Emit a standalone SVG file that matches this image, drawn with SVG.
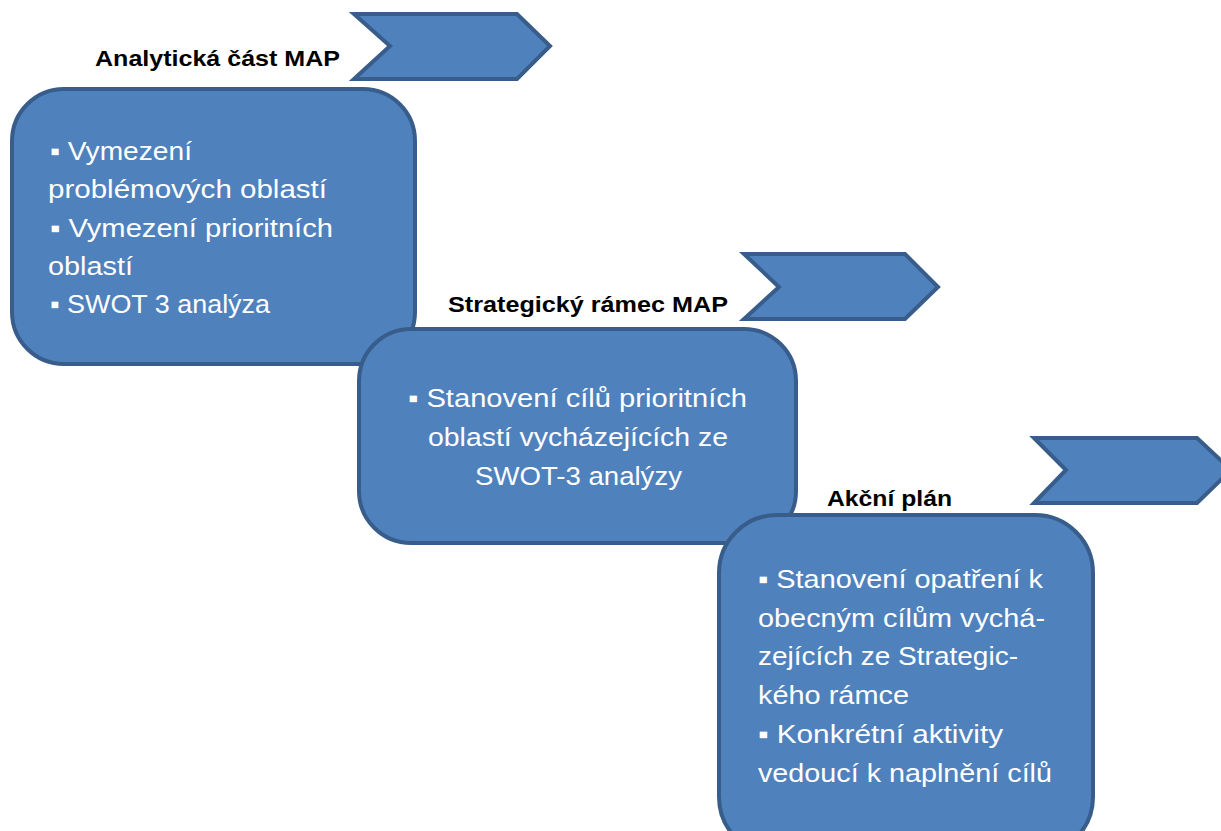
<svg xmlns="http://www.w3.org/2000/svg" width="1221" height="831" viewBox="0 0 1221 831">
<style>
.shape{fill:#4f81bd;stroke:#385d8a;stroke-width:4;stroke-linejoin:miter}
.lbl{font-family:"Liberation Sans",Arial,sans-serif;font-weight:bold;font-size:22px;fill:#000}
.body{font-family:"Liberation Sans",Arial,sans-serif;font-size:26px;fill:#fff}
</style>
<rect width="1221" height="831" fill="#fff"/>
<g id="chevron1"><polygon class="shape" points="354,14 517,14 550,46 517,79 354,79 390,46"/></g>
<g id="label1"><text class="lbl" x="95" y="66" textLength="245" lengthAdjust="spacingAndGlyphs">Analytická část MAP</text></g>
<g id="box1">
<rect class="shape" x="12" y="89" width="403" height="275" rx="52"/>
<text class="body" x="50" y="160" textLength="142" lengthAdjust="spacingAndGlyphs">▪ Vymezení</text>
<text class="body" x="48" y="198" textLength="279" lengthAdjust="spacingAndGlyphs">problémových oblastí</text>
<text class="body" x="50" y="237" textLength="283" lengthAdjust="spacingAndGlyphs">▪ Vymezení prioritních</text>
<text class="body" x="48" y="275" textLength="85" lengthAdjust="spacingAndGlyphs">oblastí</text>
<text class="body" x="50" y="313" textLength="220" lengthAdjust="spacingAndGlyphs">▪ SWOT 3 analýza</text>
</g>
<g id="chevron2"><polygon class="shape" points="744,254 905,254 938,287 905,319 744,319 779,287"/></g>
<g id="label2"><text class="lbl" x="448" y="312" textLength="280" lengthAdjust="spacingAndGlyphs">Strategický rámec MAP</text></g>
<g id="box2">
<rect class="shape" x="359" y="329" width="437" height="214" rx="52"/>
<text class="body" x="408" y="407" textLength="339" lengthAdjust="spacingAndGlyphs">▪ Stanovení cílů prioritních</text>
<text class="body" x="428" y="446" textLength="300" lengthAdjust="spacingAndGlyphs">oblastí vycházejících ze</text>
<text class="body" x="475" y="485" textLength="207" lengthAdjust="spacingAndGlyphs">SWOT-3 analýzy</text>
</g>
<g id="chevron3"><polygon class="shape" points="1034,438 1197,438 1231,470 1197,503 1034,503 1066,470"/></g>
<g id="label3"><text class="lbl" x="827" y="506" textLength="125" lengthAdjust="spacingAndGlyphs">Akční plán</text></g>
<g id="box3">
<rect class="shape" x="719" y="515" width="374" height="340" rx="58"/>
<text class="body" x="758" y="588" textLength="285" lengthAdjust="spacingAndGlyphs">▪ Stanovení opatření k</text>
<text class="body" x="758" y="627" textLength="287" lengthAdjust="spacingAndGlyphs">obecným cílům vychá-</text>
<text class="body" x="758" y="665" textLength="260" lengthAdjust="spacingAndGlyphs">zejících ze Strategic-</text>
<text class="body" x="758" y="704" textLength="151" lengthAdjust="spacingAndGlyphs">kého rámce</text>
<text class="body" x="758" y="743" textLength="245" lengthAdjust="spacingAndGlyphs">▪ Konkrétní aktivity</text>
<text class="body" x="758" y="782" textLength="294" lengthAdjust="spacingAndGlyphs">vedoucí k naplnění cílů</text>
</g>
<g id="connectors"></g>
</svg>
